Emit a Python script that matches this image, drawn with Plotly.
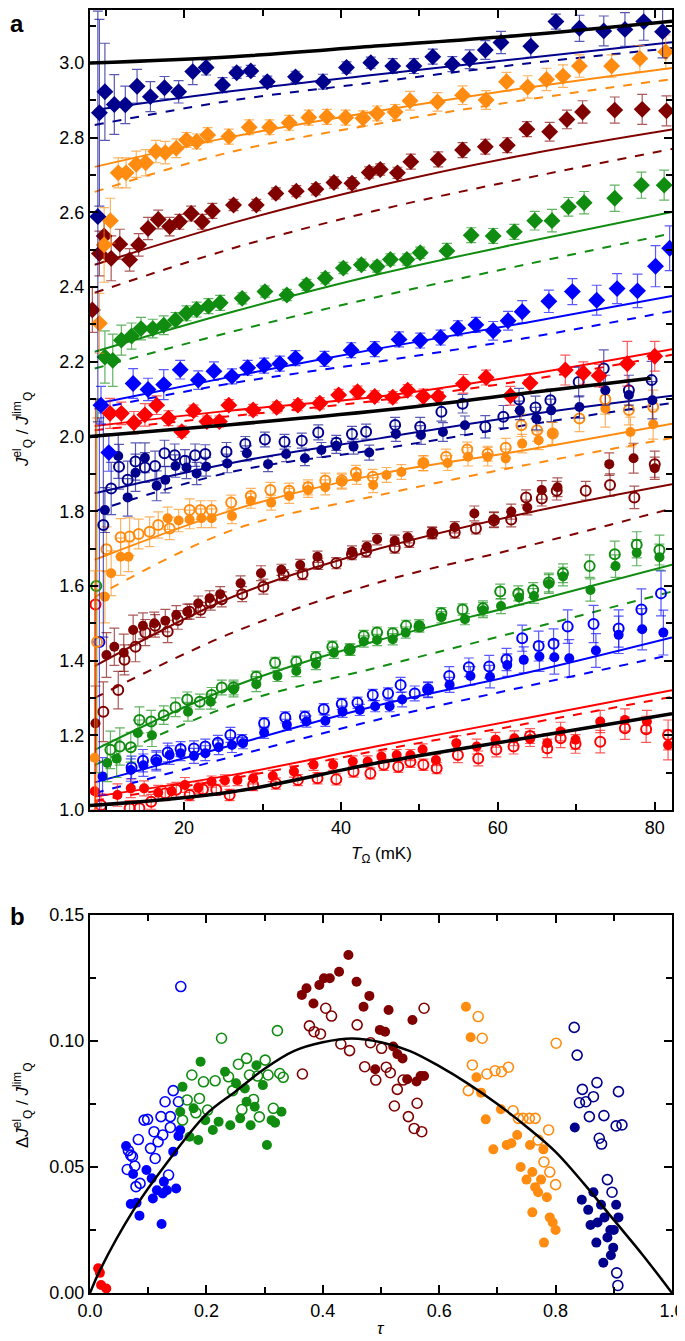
import plotly.graph_objects as go

# ---------------- Panel a: theory lines (T in mK, J/Jlim offset) ----------------
blk_top_x = [8, 26.2, 44.9, 63.4, 82.2]
blk_top_y = [3.0, 3.017, 3.046, 3.075, 3.112]
blk_mid_x = [8, 25, 47.5, 65, 79.5]
blk_mid_y = [2.0, 2.03, 2.075, 2.12, 2.156]
blk_low_x = [8, 26.2, 44.9, 63.4, 82.2]
blk_low_y = [1.012, 1.049, 1.127, 1.192, 1.258]

T_line = [8.6, 26.2, 44.9, 63.4, 82.2]
# upper group (diamonds) solid / dashed
navyU_sol = [2.874, 2.925, 2.970, 3.013, 3.056]
navyU_das = [2.834, 2.900, 2.950, 2.998, 3.040]
orU_sol = [2.722, 2.803, 2.872, 2.933, 2.987]
orU_das = [2.655, 2.763, 2.838, 2.901, 2.957]
drU_sol = [2.46, 2.572, 2.672, 2.754, 2.822]
drU_das = [2.385, 2.504, 2.607, 2.691, 2.77]
grU_sol = [2.227, 2.334, 2.435, 2.52, 2.601]
grU_das = [2.182, 2.281, 2.375, 2.46, 2.544]
blU_sol = [2.087, 2.161, 2.236, 2.304, 2.376]
blU_das = [2.074, 2.143, 2.201, 2.263, 2.336]
rdU_sol = [2.028, 2.07, 2.107, 2.165, 2.234]
rdU_das = [2.017, 2.055, 2.097, 2.15, 2.219]
# lower group (circles)
navyL_sol = [1.848, 1.930, 1.995, 2.057, 2.109]
navyL_das = [1.80, 1.906, 1.966, 2.030, 2.090]
orL_sol = [1.67, 1.803, 1.90, 1.963, 2.034]
orL_das = [1.57, 1.75, 1.843, 1.923, 1.996]
drL_sol = [1.385, 1.571, 1.70, 1.794, 1.872]
drL_das = [1.30, 1.475, 1.61, 1.705, 1.807]
grL_sol = [1.161, 1.33, 1.455, 1.553, 1.657]
grL_das = [1.12, 1.281, 1.383, 1.482, 1.585]
blL_sol = [1.074, 1.174, 1.281, 1.366, 1.462]
blL_das = [1.045, 1.143, 1.243, 1.33, 1.416]
rdL_sol = [1.036, 1.094, 1.172, 1.245, 1.321]
rdL_das = [1.025, 1.085, 1.16, 1.23, 1.303]

# ---------------- Panel a: measured points ----------------
nD_x = [9.0, 9.2, 9.9, 11.1, 12.5, 14.0, 15.7, 17.5, 19.3, 21.1, 22.8, 24.9, 26.7, 28.5, 30.6, 34.2, 37.7, 40.7, 43.8, 46.6, 49.3, 51.7, 54.2, 56.4, 58.4, 60.4, 64.2, 67.4, 70.4, 73.5, 76.2, 78.6, 81.0]
nD_y = [2.589, 2.867, 2.923, 2.889, 2.888, 2.938, 2.910, 2.934, 2.923, 2.977, 2.988, 2.941, 2.974, 2.979, 2.950, 2.963, 2.950, 2.988, 3.001, 2.992, 2.992, 3.017, 2.997, 3.010, 3.035, 3.055, 3.045, 3.111, 3.093, 3.086, 3.090, 3.111, 3.084]
nD_e = [0.55, 0.25, 0.13, 0.08, 0.05, 0.045, 0.04, 0.03, 0.03, 0.035, 0.02, 0.02, 0.015, 0.015, 0.015, 0.015, 0.02, 0.015, 0.015, 0.02, 0.02, 0.02, 0.02, 0.025, 0.025, 0.03, 0.03, 0.02, 0.035, 0.04, 0.045, 0.05, 0.07]

oD_x = [9.2, 9.8, 10.6, 11.6, 12.6, 13.9, 15.1, 16.4, 17.6, 19.0, 20.3, 21.6, 23.0, 25.7, 28.3, 30.9, 33.4, 35.9, 38.2, 40.6, 42.8, 44.6, 46.9, 48.8, 52.3, 55.5, 58.5, 61.1, 63.8, 66.2, 68.3, 70.4, 74.5, 78.1, 81.4]
oD_y = [2.303, 2.513, 2.578, 2.706, 2.706, 2.729, 2.733, 2.763, 2.760, 2.772, 2.794, 2.790, 2.807, 2.803, 2.828, 2.828, 2.840, 2.854, 2.856, 2.854, 2.852, 2.865, 2.869, 2.899, 2.896, 2.914, 2.901, 2.950, 2.936, 2.956, 2.965, 2.992, 2.992, 3.012, 3.030]
oD_e = [0.08, 0.1, 0.06, 0.04, 0.04, 0.035, 0.035, 0.03, 0.03, 0.025, 0.02, 0.02, 0.02, 0.02, 0.02, 0.02, 0.02, 0.02, 0.02, 0.02, 0.02, 0.02, 0.02, 0.025, 0.025, 0.025, 0.025, 0.025, 0.03, 0.03, 0.03, 0.03, 0.03, 0.035, 0.045]

dD_x = [8.3, 9.2, 9.8, 10.7, 11.8, 13.05, 14.2, 15.4, 16.7, 18.15, 19.4, 20.9, 22.3, 23.6, 26.3, 29.2, 31.7, 34.3, 36.8, 39.1, 41.4, 43.6, 45.0, 47.2, 48.9, 52.4, 55.5, 58.4, 61.2, 63.7, 66.6, 68.8, 70.8, 74.9, 78.4, 81.5]
dD_y = [2.339, 2.490, 2.537, 2.477, 2.515, 2.473, 2.513, 2.557, 2.581, 2.562, 2.575, 2.597, 2.575, 2.604, 2.620, 2.620, 2.651, 2.657, 2.662, 2.680, 2.678, 2.707, 2.715, 2.706, 2.736, 2.742, 2.767, 2.776, 2.780, 2.823, 2.816, 2.849, 2.869, 2.874, 2.876, 2.872]
dD_e = [0.06, 0.06, 0.05, 0.06, 0.04, 0.03, 0.03, 0.03, 0.025, 0.025, 0.02, 0.02, 0.02, 0.02, 0.015, 0.015, 0.015, 0.015, 0.015, 0.015, 0.015, 0.015, 0.015, 0.015, 0.02, 0.02, 0.02, 0.02, 0.02, 0.02, 0.025, 0.025, 0.03, 0.035, 0.04, 0.04]

gD_x = [9.9, 10.9, 12.0, 13.3, 14.5, 16.0, 17.4, 18.9, 20.3, 21.6, 23.1, 24.6, 27.4, 30.3, 33.1, 35.6, 38.0, 40.3, 42.6, 44.6, 46.3, 48.4, 50.1, 53.5, 56.6, 59.4, 62.1, 64.7, 66.9, 69.0, 71.0, 74.9, 78.3, 81.2]
gD_y = [2.213, 2.204, 2.258, 2.269, 2.289, 2.289, 2.298, 2.312, 2.330, 2.340, 2.349, 2.358, 2.370, 2.388, 2.379, 2.406, 2.424, 2.451, 2.460, 2.455, 2.474, 2.474, 2.492, 2.497, 2.539, 2.537, 2.548, 2.578, 2.578, 2.615, 2.626, 2.638, 2.673, 2.673]
gD_e = [0.07, 0.07, 0.04, 0.035, 0.03, 0.025, 0.025, 0.02, 0.02, 0.02, 0.02, 0.02, 0.015, 0.015, 0.015, 0.015, 0.015, 0.015, 0.015, 0.015, 0.015, 0.015, 0.015, 0.02, 0.02, 0.02, 0.02, 0.025, 0.03, 0.025, 0.03, 0.035, 0.035, 0.04]

bD_x = [9.4, 10.4, 13.5, 15.4, 17.4, 19.5, 21.8, 23.8, 26.1, 28.1, 30.2, 32.2, 34.2, 37.9, 41.3, 44.3, 47.4, 50.1, 52.7, 54.9, 57.2, 59.4, 61.3, 63.1, 66.5, 69.5, 72.6, 75.2, 77.8, 80.1, 81.9]
bD_y = [2.084, 1.957, 2.142, 2.126, 2.139, 2.179, 2.151, 2.175, 2.161, 2.184, 2.190, 2.195, 2.210, 2.208, 2.231, 2.234, 2.260, 2.257, 2.265, 2.290, 2.299, 2.283, 2.310, 2.334, 2.362, 2.388, 2.365, 2.396, 2.390, 2.456, 2.504]
bD_e = [0.05, 0.05, 0.04, 0.03, 0.04, 0.025, 0.025, 0.025, 0.02, 0.02, 0.02, 0.02, 0.02, 0.02, 0.02, 0.02, 0.02, 0.02, 0.02, 0.02, 0.02, 0.025, 0.025, 0.03, 0.03, 0.035, 0.04, 0.04, 0.045, 0.055, 0.06]

rD_x = [10.55, 12.0, 13.6, 15.0, 16.5, 18.0, 19.7, 21.2, 22.9, 24.5, 25.7, 28.8, 31.8, 34.5, 37.3, 39.7, 42.1, 44.3, 46.6, 48.5, 50.5, 52.4, 55.6, 58.5, 61.6, 64.1, 68.6, 70.9, 72.9, 76.5, 80.0]
rD_y = [2.062, 2.062, 2.037, 2.058, 2.084, 2.049, 2.013, 2.069, 2.040, 2.040, 2.084, 2.071, 2.078, 2.084, 2.089, 2.111, 2.120, 2.107, 2.105, 2.124, 2.107, 2.107, 2.141, 2.158, 2.109, 2.143, 2.178, 2.170, 2.163, 2.195, 2.215]
rD_e = [0.04, 0.03, 0.03, 0.03, 0.025, 0.02, 0.015, 0.015, 0.015, 0.015, 0.015, 0.015, 0.015, 0.015, 0.015, 0.015, 0.015, 0.015, 0.015, 0.015, 0.02, 0.02, 0.025, 0.02, 0.025, 0.025, 0.04, 0.03, 0.03, 0.06, 0.04]

nF_x = [9.9, 11.6, 12.8, 13.8, 15.0, 16.5, 17.6, 18.9, 20.3, 21.6, 22.8, 25.5, 28.0, 30.7, 33.0, 35.4, 37.5, 39.4, 41.6, 43.6, 47.0, 50.2, 53.0, 55.8, 62.8, 64.9, 66.8, 70.4, 73.7, 76.7, 79.7]
nF_y = [1.803, 1.948, 1.837, 1.903, 1.943, 1.868, 1.884, 1.921, 1.917, 1.901, 1.919, 1.928, 1.955, 1.926, 1.953, 1.942, 1.964, 1.975, 1.973, 1.957, 2.007, 2.004, 2.012, 2.030, 2.070, 2.048, 2.070, 2.079, 2.124, 2.111, 2.097]
nF_e = [0.06, 0.06, 0.05, 0.05, 0.04, 0.04, 0.035, 0.03, 0.03, 0.03, 0.025, 0.025, 0.02, 0.02, 0.02, 0.02, 0.02, 0.02, 0.02, 0.02, 0.02, 0.025, 0.025, 0.025, 0.025, 0.03, 0.03, 0.03, 0.04, 0.04, 0.05]

nO_x = [9.7, 10.7, 11.7, 12.8, 13.8, 15.0, 16.3, 17.5, 18.8, 20.1, 21.4, 22.7, 25.4, 27.8, 30.3, 32.8, 35.0, 37.1, 39.4, 41.4, 43.2, 46.9, 50.1, 52.8, 55.5, 58.4, 60.7, 62.7, 64.8, 66.7, 70.3, 73.5, 76.7, 79.6]
nO_y = [1.763, 1.861, 1.919, 1.884, 1.933, 1.917, 1.921, 1.955, 1.950, 1.935, 1.950, 1.953, 1.959, 1.980, 1.992, 1.986, 1.989, 2.011, 1.983, 2.007, 2.013, 2.031, 2.026, 2.066, 2.088, 2.026, 2.053, 2.099, 2.078, 2.097, 2.146, 2.182, 2.124, 2.151]
nO_e = [0.3, 0.07, 0.06, 0.05, 0.05, 0.04, 0.04, 0.035, 0.03, 0.03, 0.03, 0.025, 0.025, 0.02, 0.02, 0.02, 0.02, 0.02, 0.02, 0.02, 0.02, 0.02, 0.025, 0.025, 0.025, 0.03, 0.03, 0.03, 0.03, 0.03, 0.04, 0.05, 0.04, 0.05]

oF_x = [8.6, 9.9, 10.7, 11.9, 12.9, 17.9, 19.3, 20.7, 22.2, 23.5, 26.1, 28.5, 31.1, 33.4, 35.8, 38.0, 40.1, 42.0, 44.1, 45.8, 47.7, 50.5, 53.6, 56.2, 58.7, 61.0, 63.1, 65.2, 66.9, 73.7, 76.9, 79.8]
oF_y = [1.14, 1.571, 1.634, 1.678, 1.678, 1.781, 1.775, 1.778, 1.781, 1.781, 1.787, 1.828, 1.823, 1.841, 1.857, 1.864, 1.879, 1.892, 1.870, 1.897, 1.905, 1.928, 1.929, 1.946, 1.946, 1.941, 1.981, 1.990, 2.008, 2.075, 2.012, 2.033]
oF_e = [0.5, 0.07, 0.06, 0.05, 0.04, 0.03, 0.03, 0.025, 0.025, 0.025, 0.02, 0.02, 0.02, 0.02, 0.02, 0.02, 0.02, 0.02, 0.02, 0.02, 0.02, 0.02, 0.02, 0.025, 0.025, 0.025, 0.025, 0.025, 0.03, 0.05, 0.04, 0.04]

oO_x = [8.9, 10.1, 11.9, 13.05, 14.2, 15.6, 16.7, 18.15, 20.7, 22.1, 23.5, 26.0, 28.5, 31.0, 33.4, 35.8, 38.0, 40.1, 41.9, 44.05, 50.5, 53.4, 56.1, 58.7, 61.0, 63.0, 65.0, 67.0, 70.4, 73.7, 76.7, 79.8]
oO_y = [1.45, 1.698, 1.730, 1.732, 1.739, 1.745, 1.763, 1.754, 1.803, 1.803, 1.803, 1.823, 1.841, 1.857, 1.855, 1.864, 1.882, 1.882, 1.903, 1.892, 1.929, 1.946, 1.965, 1.954, 1.970, 2.030, 2.017, 2.008, 2.048, 2.100, 2.071, 2.079]
oO_e = [0.6, 0.06, 0.05, 0.05, 0.04, 0.04, 0.035, 0.03, 0.03, 0.025, 0.025, 0.02, 0.02, 0.02, 0.02, 0.02, 0.02, 0.02, 0.02, 0.02, 0.02, 0.02, 0.02, 0.02, 0.025, 0.03, 0.03, 0.03, 0.035, 0.04, 0.04, 0.045]

dF_x = [8.7, 10.1, 11.1, 12.3, 13.5, 14.75, 16.2, 17.6, 19.0, 20.4, 21.8, 23.25, 24.6, 27.2, 29.8, 32.4, 34.8, 37.0, 41.4, 43.3, 44.6, 46.85, 48.5, 51.6, 54.5, 57.0, 59.5, 61.7, 63.75, 65.6, 67.6, 74.2, 77.3, 80.0]
dF_y = [1.232, 1.415, 1.437, 1.421, 1.482, 1.493, 1.500, 1.507, 1.522, 1.531, 1.553, 1.567, 1.578, 1.607, 1.634, 1.643, 1.656, 1.678, 1.692, 1.705, 1.725, 1.721, 1.730, 1.743, 1.757, 1.794, 1.778, 1.799, 1.810, 1.857, 1.864, 1.926, 1.942, 1.915]
dF_e = [0.1, 0.06, 0.05, 0.05, 0.04, 0.035, 0.03, 0.03, 0.025, 0.02, 0.02, 0.02, 0.02, 0.02, 0.02, 0.015, 0.015, 0.015, 0.015, 0.015, 0.015, 0.015, 0.015, 0.015, 0.015, 0.02, 0.02, 0.02, 0.02, 0.025, 0.025, 0.03, 0.04, 0.03]

dO_x = [9.7, 11.6, 12.4, 13.8, 15.05, 16.3, 17.9, 19.2, 20.7, 22.1, 23.4, 24.8, 27.4, 30.1, 32.7, 35.1, 37.1, 39.4, 41.4, 43.2, 46.85, 48.7, 51.65, 54.5, 57.2, 59.5, 61.7, 63.6, 65.6, 67.5, 71.2, 74.3, 77.4, 80.0]
dO_y = [1.263, 1.321, 1.402, 1.437, 1.475, 1.493, 1.478, 1.509, 1.531, 1.536, 1.555, 1.564, 1.578, 1.598, 1.629, 1.632, 1.659, 1.661, 1.685, 1.692, 1.703, 1.718, 1.741, 1.743, 1.754, 1.776, 1.778, 1.837, 1.834, 1.855, 1.855, 1.870, 1.837, 1.926]
dO_e = [0.08, 0.05, 0.04, 0.04, 0.035, 0.03, 0.03, 0.025, 0.02, 0.02, 0.02, 0.02, 0.02, 0.02, 0.015, 0.015, 0.015, 0.015, 0.015, 0.015, 0.015, 0.015, 0.015, 0.015, 0.015, 0.02, 0.02, 0.02, 0.02, 0.025, 0.025, 0.03, 0.03, 0.035]

gF_x = [10.2, 11.4, 14.1, 15.9, 20.5, 23.4, 26.3, 29.2, 31.9, 34.3, 36.8, 39.1, 41.2, 42.9, 44.6, 46.6, 48.25, 49.95, 52.8, 55.8, 58.1, 60.4, 62.7, 64.6, 66.5, 68.3, 71.8, 75.0, 77.7, 80.6]
gF_y = [1.126, 1.137, 1.206, 1.200, 1.263, 1.290, 1.323, 1.337, 1.359, 1.372, 1.391, 1.421, 1.429, 1.451, 1.455, 1.457, 1.475, 1.495, 1.516, 1.511, 1.535, 1.546, 1.569, 1.573, 1.605, 1.625, 1.589, 1.653, 1.689, 1.677]
gF_e = [0.05, 0.05, 0.035, 0.03, 0.025, 0.02, 0.02, 0.02, 0.015, 0.015, 0.015, 0.015, 0.015, 0.015, 0.015, 0.015, 0.015, 0.015, 0.015, 0.015, 0.02, 0.02, 0.02, 0.02, 0.025, 0.025, 0.03, 0.03, 0.035, 0.035]

gO_x = [8.8, 10.6, 11.8, 13.2, 14.3, 15.8, 17.4, 18.9, 20.4, 22.0, 23.5, 24.8, 26.3, 29.2, 31.6, 34.3, 36.8, 38.9, 41.1, 42.9, 44.6, 46.6, 48.3, 50.0, 52.8, 55.5, 58.1, 60.3, 62.6, 64.5, 66.5, 68.3, 71.7, 74.9, 77.7, 80.6]
gO_y = [1.6, 1.161, 1.170, 1.168, 1.241, 1.237, 1.254, 1.275, 1.296, 1.290, 1.308, 1.328, 1.328, 1.357, 1.394, 1.397, 1.409, 1.437, 1.430, 1.466, 1.475, 1.473, 1.493, 1.491, 1.527, 1.537, 1.540, 1.585, 1.580, 1.589, 1.609, 1.634, 1.653, 1.685, 1.710, 1.696]
gO_e = [0.5, 0.05, 0.05, 0.04, 0.035, 0.03, 0.025, 0.025, 0.02, 0.02, 0.02, 0.02, 0.02, 0.015, 0.015, 0.015, 0.015, 0.015, 0.015, 0.015, 0.015, 0.015, 0.015, 0.015, 0.015, 0.015, 0.02, 0.02, 0.02, 0.02, 0.025, 0.025, 0.03, 0.035, 0.035, 0.04]

bF_x = [9.6, 13.2, 14.8, 16.45, 18.15, 19.55, 21.25, 22.7, 24.4, 26.1, 27.5, 30.2, 33.1, 35.6, 38.0, 40.2, 42.4, 44.35, 46.2, 47.8, 51.1, 53.85, 56.5, 59.0, 61.2, 63.3, 65.3, 67.2, 69.1, 72.5, 75.4, 78.4, 81.1]
bF_y = [1.09, 1.107, 1.12, 1.130, 1.147, 1.152, 1.145, 1.152, 1.168, 1.174, 1.179, 1.207, 1.228, 1.237, 1.239, 1.263, 1.268, 1.278, 1.278, 1.296, 1.321, 1.335, 1.359, 1.357, 1.388, 1.402, 1.411, 1.409, 1.406, 1.427, 1.469, 1.484, 1.475]
bF_e = [0.05, 0.03, 0.03, 0.025, 0.025, 0.02, 0.02, 0.02, 0.02, 0.02, 0.015, 0.015, 0.015, 0.015, 0.015, 0.015, 0.015, 0.015, 0.015, 0.02, 0.02, 0.02, 0.025, 0.03, 0.03, 0.035, 0.04, 0.045, 0.05, 0.045, 0.05, 0.055, 0.06]

bO_x = [9.2, 13.3, 14.75, 16.45, 17.9, 19.55, 21.25, 22.7, 24.3, 25.9, 27.4, 30.2, 32.9, 35.4, 37.8, 40.1, 42.1, 44.05, 46.0, 47.6, 49.4, 51.1, 53.8, 56.3, 58.9, 61.1, 63.1, 65.2, 67.1, 68.9, 72.2, 75.4, 78.3, 80.8]
bO_y = [1.45, 1.114, 1.132, 1.134, 1.154, 1.163, 1.165, 1.170, 1.180, 1.201, 1.187, 1.232, 1.248, 1.250, 1.270, 1.284, 1.287, 1.308, 1.312, 1.335, 1.312, 1.323, 1.359, 1.382, 1.384, 1.403, 1.460, 1.439, 1.445, 1.491, 1.498, 1.486, 1.537, 1.580]
bO_e = [0.6, 0.03, 0.03, 0.025, 0.025, 0.02, 0.02, 0.02, 0.02, 0.02, 0.015, 0.015, 0.015, 0.015, 0.015, 0.015, 0.015, 0.015, 0.015, 0.02, 0.02, 0.02, 0.025, 0.025, 0.03, 0.03, 0.035, 0.04, 0.04, 0.045, 0.05, 0.05, 0.055, 0.06]

rF_x = [8.6, 11.5, 13.2, 14.9, 16.7, 18.4, 20.1, 21.8, 23.5, 25.2, 26.8, 28.8, 31.3, 34.0, 36.5, 39.0, 41.5, 43.4, 45.15, 47.1, 48.85, 50.4, 52.1, 54.7, 57.3, 59.7, 62.1, 64.1, 66.3, 68.0, 69.9, 73.05, 76.2, 79.0, 81.7]
rF_y = [1.05, 1.04, 1.058, 1.058, 1.046, 1.05, 1.067, 1.06, 1.076, 1.079, 1.080, 1.085, 1.091, 1.103, 1.121, 1.121, 1.13, 1.13, 1.143, 1.147, 1.147, 1.162, 1.134, 1.179, 1.170, 1.188, 1.192, 1.19, 1.179, 1.210, 1.188, 1.237, 1.241, 1.237, 1.174]
rF_e = [0.55, 0.03, 0.025, 0.02, 0.02, 0.02, 0.02, 0.015, 0.015, 0.015, 0.015, 0.015, 0.015, 0.015, 0.015, 0.015, 0.015, 0.015, 0.015, 0.015, 0.015, 0.015, 0.015, 0.02, 0.02, 0.02, 0.02, 0.02, 0.025, 0.025, 0.025, 0.03, 0.03, 0.03, 0.04]

rO_x = [8.7, 9.4, 13.05, 14.3, 15.8, 17.6, 19.0, 20.7, 22.4, 24.1, 25.8, 28.8, 31.7, 34.5, 37.0, 39.4, 41.6, 43.75, 45.45, 47.3, 48.85, 50.5, 52.2, 54.9, 57.5, 59.8, 62.0, 64.1, 66.3, 68.0, 69.9, 73.05, 76.2, 78.9, 81.7]
rO_y = [1.55, 1.013, 1.005, 1.005, 1.022, 1.045, 1.054, 1.040, 1.055, 1.054, 1.040, 1.067, 1.071, 1.080, 1.085, 1.082, 1.103, 1.098, 1.121, 1.116, 1.129, 1.121, 1.112, 1.147, 1.138, 1.162, 1.170, 1.198, 1.165, 1.192, 1.177, 1.183, 1.219, 1.216, 1.201]
rO_e = [0.55, 0.03, 0.02, 0.02, 0.02, 0.02, 0.02, 0.015, 0.015, 0.015, 0.015, 0.015, 0.015, 0.015, 0.015, 0.015, 0.015, 0.015, 0.015, 0.015, 0.015, 0.015, 0.015, 0.02, 0.02, 0.02, 0.02, 0.02, 0.025, 0.025, 0.025, 0.03, 0.03, 0.035, 0.04]

# ---------------- Panel b ----------------
tau_curve = [0, 0.017, 0.075, 0.13, 0.2, 0.25, 0.3, 0.35, 0.4, 0.45, 0.5, 0.55, 0.6, 0.65, 0.7, 0.75, 0.8, 0.85, 0.9, 0.95, 1.0]
dJ_curve = [0, 0.009, 0.033, 0.051, 0.071, 0.080, 0.089, 0.096, 0.0995, 0.101, 0.0995, 0.096, 0.090, 0.083, 0.075, 0.066, 0.056, 0.043, 0.029, 0.015, 0.0]

bR_t = [0.014, 0.017, 0.019, 0.028]
bR_d = [0.0098, 0.008, 0.0032, 0.0018]
bBF_t = [0.062, 0.070, 0.074, 0.080, 0.085, 0.097, 0.106, 0.108, 0.115, 0.123, 0.125, 0.127, 0.132, 0.143, 0.148, 0.152, 0.155]
bBF_d = [0.0583, 0.0353, 0.0472, 0.0358, 0.0307, 0.0488, 0.0455, 0.0375, 0.0408, 0.0274, 0.0395, 0.0442, 0.0408, 0.0561, 0.0415, 0.0623, 0.0647]
bBO_t = [0.064, 0.066, 0.070, 0.073, 0.077, 0.079, 0.083, 0.086, 0.093, 0.099, 0.104, 0.110, 0.112, 0.117, 0.122, 0.125, 0.129, 0.135, 0.138, 0.138, 0.143, 0.152, 0.156]
bBO_d = [0.0490, 0.0565, 0.0547, 0.0541, 0.0504, 0.0422, 0.0609, 0.0435, 0.0686, 0.0689, 0.0574, 0.0640, 0.0534, 0.0600, 0.0700, 0.0627, 0.0759, 0.0468, 0.0700, 0.0657, 0.0803, 0.0759, 0.1216]
bGF_t = [0.155, 0.159, 0.171, 0.178, 0.186, 0.190, 0.198, 0.211, 0.221, 0.232, 0.241, 0.251, 0.258, 0.266, 0.269, 0.276, 0.283, 0.286, 0.297, 0.304, 0.312, 0.318, 0.329]
bGF_d = [0.0719, 0.0818, 0.0620, 0.0733, 0.0607, 0.0918, 0.0686, 0.0647, 0.0680, 0.0878, 0.0666, 0.0832, 0.0693, 0.0812, 0.0759, 0.0666, 0.0739, 0.0904, 0.0825, 0.0587, 0.0686, 0.0676, 0.0719]
bGO_t = [0.159, 0.167, 0.175, 0.182, 0.188, 0.195, 0.202, 0.215, 0.226, 0.238, 0.245, 0.255, 0.261, 0.269, 0.274, 0.281, 0.288, 0.291, 0.301, 0.306, 0.315, 0.322, 0.326, 0.332]
bGO_d = [0.0686, 0.0766, 0.0865, 0.0715, 0.0772, 0.0838, 0.0726, 0.0842, 0.1011, 0.0858, 0.0803, 0.0908, 0.0728, 0.0931, 0.0865, 0.0768, 0.0861, 0.0699, 0.0924, 0.0865, 0.0733, 0.1041, 0.0871, 0.0856]
bDF_t = [0.364, 0.372, 0.384, 0.394, 0.402, 0.412, 0.428, 0.444, 0.458, 0.470, 0.480, 0.490, 0.498, 0.507, 0.513, 0.521, 0.528, 0.537, 0.545, 0.554, 0.561, 0.568, 0.574]
bDF_d = [0.1183, 0.1209, 0.1149, 0.1222, 0.1249, 0.1249, 0.1275, 0.1341, 0.1235, 0.1136, 0.1179, 0.0888, 0.1044, 0.1037, 0.1123, 0.0978, 0.0948, 0.0931, 0.0848, 0.1083, 0.0839, 0.0861, 0.0861]
bDO_t = [0.365, 0.377, 0.385, 0.396, 0.405, 0.415, 0.431, 0.446, 0.459, 0.472, 0.482, 0.491, 0.501, 0.509, 0.516, 0.523, 0.528, 0.538, 0.547, 0.557, 0.562, 0.570, 0.574]
bDO_d = [0.0869, 0.1060, 0.1037, 0.1028, 0.1130, 0.1099, 0.0988, 0.0962, 0.1064, 0.0898, 0.0993, 0.0845, 0.0971, 0.0896, 0.0874, 0.0742, 0.0808, 0.0845, 0.0700, 0.0653, 0.0753, 0.0640, 0.1130]
bOF_t = [0.646, 0.654, 0.664, 0.672, 0.680, 0.693, 0.706, 0.716, 0.724, 0.734, 0.740, 0.750, 0.756, 0.760, 0.765, 0.770, 0.775, 0.779, 0.785, 0.790, 0.795, 0.800, 0.760, 0.780]
bOF_d = [0.1136, 0.1015, 0.0856, 0.0795, 0.0689, 0.057, 0.0729, 0.0587, 0.0594, 0.0627, 0.050, 0.045, 0.0587, 0.048, 0.042, 0.040, 0.045, 0.057, 0.038, 0.030, 0.028, 0.025, 0.032, 0.020]
bOO_t = [0.650, 0.657, 0.667, 0.674, 0.682, 0.696, 0.707, 0.719, 0.727, 0.736, 0.744, 0.755, 0.765, 0.770, 0.788, 0.801, 0.780, 0.790, 0.800]
bOO_d = [0.0803, 0.0905, 0.1097, 0.1011, 0.0869, 0.0882, 0.0878, 0.0896, 0.0723, 0.0693, 0.0693, 0.0693, 0.0693, 0.0607, 0.0647, 0.0991, 0.052, 0.048, 0.043]
bNF_t = [0.833, 0.845, 0.856, 0.865, 0.872, 0.878, 0.884, 0.889, 0.894, 0.899, 0.904, 0.908, 0.870, 0.860, 0.882, 0.895, 0.900]
bNF_d = [0.0657, 0.037, 0.033, 0.040, 0.028, 0.035, 0.030, 0.022, 0.025, 0.018, 0.035, 0.030, 0.020, 0.027, 0.012, 0.015, 0.025]
bNO_t = [0.832, 0.837, 0.841, 0.846, 0.852, 0.858, 0.865, 0.871, 0.875, 0.879, 0.883, 0.904, 0.908, 0.914, 0.889, 0.897, 0.905, 0.907]
bNO_d = [0.1054, 0.0944, 0.0755, 0.0808, 0.0759, 0.0700, 0.0779, 0.0835, 0.0614, 0.0591, 0.0704, 0.0663, 0.0799, 0.0667, 0.045, 0.040, 0.008, 0.003]

# ---------------- styling ----------------
C = {
    "red": (255, 0, 0), "blue": (0, 0, 255), "green": (16, 140, 16),
    "dred": (128, 0, 0), "orange": (255, 140, 16), "navy": (0, 0, 140),
}
def col(k, a=1.0):
    r, g, b = C[k]
    return f"rgba({r},{g},{b},{a})"

FONT = "Liberation Sans, Arial, Helvetica, sans-serif"
fig = go.Figure()

def add_line(x, y, k, dash="solid", xa="x", ya="y"):
    fig.add_trace(go.Scatter(x=x, y=y, mode="lines", xaxis=xa, yaxis=ya,
                             line=dict(color=col(k), width=2, dash=dash, shape="spline"),
                             hoverinfo="skip"))

def add_pts(x, y, e, k, sym):
    open_ = sym.endswith("open")
    fig.add_trace(go.Scatter(
        x=x, y=y, mode="markers", xaxis="x", yaxis="y",
        error_y=dict(type="data", array=e, visible=True, color=col(k, 0.65), thickness=1.2, width=5),
        marker=dict(symbol=sym, size=13 if sym == "diamond" else 10, color=col(k),
                    line=dict(width=2 if open_ else 0, color=col(k))),
        hoverinfo="skip"))

for k, s, d in [("navy", navyU_sol, navyU_das), ("orange", orU_sol, orU_das), ("dred", drU_sol, drU_das),
                ("green", grU_sol, grU_das), ("blue", blU_sol, blU_das), ("red", rdU_sol, rdU_das),
                ("navy", navyL_sol, navyL_das), ("orange", orL_sol, orL_das), ("dred", drL_sol, drL_das),
                ("green", grL_sol, grL_das), ("blue", blL_sol, blL_das), ("red", rdL_sol, rdL_das)]:
    add_line(T_line, s, k)
    add_line(T_line, d, k, dash="dash")

add_pts(rO_x, rO_y, rO_e, "red", "circle-open")
add_pts(rF_x, rF_y, rF_e, "red", "circle")
add_pts(bO_x, bO_y, bO_e, "blue", "circle-open")
add_pts(bF_x, bF_y, bF_e, "blue", "circle")
add_pts(gO_x, gO_y, gO_e, "green", "circle-open")
add_pts(gF_x, gF_y, gF_e, "green", "circle")
add_pts(dO_x, dO_y, dO_e, "dred", "circle-open")
add_pts(dF_x, dF_y, dF_e, "dred", "circle")
add_pts(oO_x, oO_y, oO_e, "orange", "circle-open")
add_pts(oF_x, oF_y, oF_e, "orange", "circle")
add_pts(nO_x, nO_y, nO_e, "navy", "circle-open")
add_pts(nF_x, nF_y, nF_e, "navy", "circle")
add_pts(rD_x, rD_y, rD_e, "red", "diamond")
add_pts(bD_x, bD_y, bD_e, "blue", "diamond")
add_pts(gD_x, gD_y, gD_e, "green", "diamond")
add_pts(dD_x, dD_y, dD_e, "dred", "diamond")
add_pts(oD_x, oD_y, oD_e, "orange", "diamond")
add_pts(nD_x, nD_y, nD_e, "navy", "diamond")

for bx, by in [(blk_low_x, blk_low_y), (blk_mid_x, blk_mid_y), (blk_top_x, blk_top_y)]:
    fig.add_trace(go.Scatter(x=bx, y=by, mode="lines", xaxis="x", yaxis="y",
                             line=dict(color="black", width=3.5, shape="spline"), hoverinfo="skip"))

def add_b(t, d, k, open_):
    fig.add_trace(go.Scatter(x=t, y=d, mode="markers", xaxis="x2", yaxis="y2",
                             marker=dict(symbol="circle-open" if open_ else "circle", size=10,
                                         color=col(k), line=dict(width=1.6 if open_ else 0, color=col(k))),
                             hoverinfo="skip"))

add_b(bR_t, bR_d, "red", False)
add_b(bBO_t, bBO_d, "blue", True)
add_b(bBF_t, bBF_d, "blue", False)
add_b(bGO_t, bGO_d, "green", True)
add_b(bGF_t, bGF_d, "green", False)
add_b(bDO_t, bDO_d, "dred", True)
add_b(bDF_t, bDF_d, "dred", False)
add_b(bOO_t, bOO_d, "orange", True)
add_b(bOF_t, bOF_d, "orange", False)
add_b(bNO_t, bNO_d, "navy", True)
add_b(bNF_t, bNF_d, "navy", False)
fig.add_trace(go.Scatter(x=tau_curve, y=dJ_curve, mode="lines", xaxis="x2", yaxis="y2",
                         line=dict(color="black", width=2.5, shape="spline"), hoverinfo="skip"))

# The page body adds an 8 px margin, so the figure is 8 px smaller and all
# reference pixel positions are shifted by 8 px.
OFF = 8
W, H = 685 - OFF, 1341 - OFF
def px(x):
    return (x - OFF) / W
def py(y):
    return 1 - (y - OFF) / H

xdom = [px(90), px(672)]
minor_style = dict(ticks="inside", ticklen=6, tickwidth=1.5, tickcolor="black")
ax_common = dict(showgrid=False, zeroline=False, showline=True, linecolor="black", linewidth=2,
                 mirror="ticks", ticks="inside", ticklen=8, tickwidth=1.5, tickcolor="black",
                 automargin=False, tickfont=dict(family=FONT, size=18, color="black"))

fig.update_layout(
    template="none",
    width=W, height=H, margin=dict(l=0, r=0, t=0, b=0, pad=0),
    paper_bgcolor="white", plot_bgcolor="white", showlegend=False,
    font=dict(family=FONT, color="black"),
    xaxis=dict(domain=xdom, range=[8, 82.2], tick0=0, dtick=20, anchor="y",
               minor=dict(dtick=10, **minor_style), **ax_common),
    yaxis=dict(domain=[py(810), py(10)], range=[1.0, 3.142], tick0=0, dtick=0.2, tickformat=".1f",
               anchor="x", minor=dict(dtick=0.1, **minor_style), **ax_common),
    xaxis2=dict(domain=xdom, range=[0, 1], tick0=0, dtick=0.2, tickformat=".1f", anchor="y2",
                minor=dict(dtick=0.1, **minor_style), **ax_common),
    yaxis2=dict(domain=[py(1293), py(915)], range=[0, 0.15], tick0=0, dtick=0.05, tickformat=".2f",
                anchor="x2", minor=dict(dtick=0.025, **minor_style), **ax_common),
)

afont = dict(family=FONT, size=17, color="black")
anns = [
    dict(text="<b>a</b>", x=px(8), y=py(8), xanchor="left", yanchor="top",
         font=dict(family=FONT, size=24, color="black")),
    dict(text="<b>b</b>", x=px(8), y=py(901), xanchor="left", yanchor="top",
         font=dict(family=FONT, size=24, color="black")),
    dict(text="<i>T</i><sub>Ω</sub> (mK)", x=px(381), y=py(855), xanchor="center", yanchor="middle", font=afont),
    dict(text="<i>τ</i>", x=px(381), y=py(1328), xanchor="center", yanchor="middle", font=afont),
    dict(text="<i>J</i><sup>el</sup><sub>Q</sub> / <i>J</i><sup>lim</sup><sub>Q</sub>", x=px(22), y=py(430),
         xanchor="center", yanchor="middle", textangle=-90, font=afont),
    dict(text="Δ<i>J</i><sup>el</sup><sub>Q</sub> / <i>J</i><sup>lim</sup><sub>Q</sub>", x=px(22), y=py(1105),
         xanchor="center", yanchor="middle", textangle=-90, font=afont),
]
for a in anns:
    a.update(xref="paper", yref="paper", showarrow=False)
fig.update_layout(annotations=anns)

fig.write_html("out.html")
